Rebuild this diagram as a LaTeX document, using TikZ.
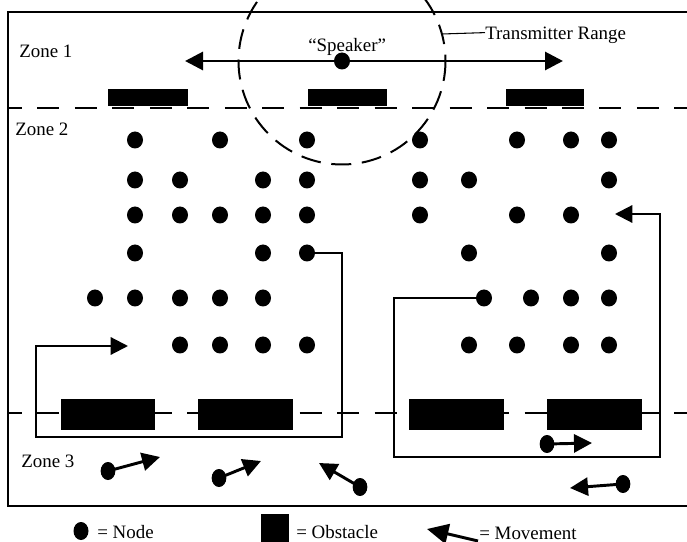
\documentclass[tikz,border=0pt]{standalone}
\usepackage{fontspec}
\setmainfont{Liberation Serif}
\usetikzlibrary{arrows.meta,shapes.geometric}
\begin{document}
\begin{tikzpicture}[x=0.75pt,y=-0.75pt,
  font=\fontsize{14.2pt}{17pt}\selectfont,
  dot/.style={ellipse,fill=black,inner sep=0pt,minimum width=12pt,minimum height=12.75pt},
  mdot/.style={ellipse,fill=black,inner sep=0pt,minimum width=11pt,minimum height=13.5pt},
  lbl/.style={inner sep=0pt,anchor=base west},
  obst/.style={fill=black},
  frameline/.style={line width=2.2pt},
  zline/.style={line width=1.9pt,dash pattern=on 16.5pt off 11.6pt,dash phase=6pt},
  rangecircle/.style={line width=1.5pt,dash pattern=on 15pt off 8pt},
  route/.style={line width=1.6pt,-{Triangle[length=13pt,width=13pt]}},
  arr/.style={line width=2.2pt,-{Triangle[length=13.5pt,width=13.5pt]}},
  marr/.style={line width=2.2pt,shorten <=-2pt,-{Triangle[length=13.5pt,width=13.5pt]}}
]
\useasboundingbox (0,0) rectangle (687,542);
\clip (0,0) rectangle (687,542);

% frame
\draw[frameline] (8,12) rectangle (700,506);

% obstacles
\fill[obst] (108,89) rectangle (188,106);
\fill[obst] (308,89) rectangle (387,106);
\fill[obst] (506,89) rectangle (584,106);
\fill[obst] (61,399) rectangle (155,430);
\fill[obst] (198,399) rectangle (293,430);
\fill[obst] (409,399) rectangle (504,430);
\fill[obst] (547,399) rectangle (642,430);

% zone lines
\draw[zline] (8,108) -- (700,108);
\draw[zline] (8,413) -- (700,413);

% zone labels
\node[lbl] (z1) at (19,57.3) {Zone 1};
\node[lbl] (z2) at (15,136) {Zone 2};
\node[lbl] (z3) at (21,467) {Zone 3};

% transmitter range
\node[dot] (spk) at (342,61) {};
\draw[rangecircle] (spk.center) circle[radius=103.5];
\node[lbl] (trange) at (485,39.5) {Transmitter Range};
\coordinate (rc) at (442,34);
\draw[line width=0.8pt] (rc) -- ([yshift=2pt]trange.west);
\node[lbl] (spkl) at (308,52) {“Speaker”};
\coordinate (tipSL) at (185,61);
\coordinate (tipSR) at (563,61);
\draw[arr] (spk) -- (tipSL);
\draw[arr] (spk) -- (tipSR);

% field nodes
\foreach \x/\y/\n in {
  135/140/a1,220/140/a2,307/140/a3,420/140/a4,517/140/a5,571/140/a6,609/140/a7,
  135/180/b1,180/180/b2,263/180/b3,307/180/b4,420/180/b5,469/180/b6,609/180/b7,
  135/215/c1,180/215/c2,220/215/c3,263/215/c4,307/215/c5,420/215/c6,517/215/c7,571/215/c8,
  135/253/d1,263/253/d2,307/253/pL,469/253/d4,609/253/d5,
  95/298/e1,135/298/e2,180/298/e3,220/298/e4,263/298/e5,484/298/pR,531/298/e7,571/298/e8,609/298/e9,
  180/345/f1,220/345/f2,263/345/f3,307/345/f4,469/345/f5,517/345/f6,571/345/f7,609/345/f8}
  \node[dot] (\n) at (\x,\y) {};

% routes
\coordinate (tipL) at (128,346);
\coordinate (tipR) at (615,214);
\draw[route] (pL.east) -- (342,253) -- (342,437) -- (36,437) -- (36,346) -- (tipL);
\draw[route] (pR.west) -- (394,298) -- (394,457) -- (660,457) -- (660,214) -- (tipR);

% movements
\node[mdot] (m1) at (108,471) {};
\node[mdot] (m2) at (219,478) {};
\node[mdot] (m3) at (360,487) {};
\node[mdot] (m4) at (547,444) {};
\node[mdot] (m5) at (623,484) {};
\coordinate (t1) at (160,457);
\coordinate (t2) at (261,461);
\coordinate (t3) at (319,463);
\coordinate (t4) at (592,443);
\coordinate (t5) at (570,488);
\draw[marr] (m1) -- (t1);
\draw[marr] (m2) -- (t2);
\draw[marr] (m3) -- (t3);
\draw[marr] (m4) -- (t4);
\draw[marr] (m5) -- (t5);

% legend
\node[ellipse,fill=black,inner sep=0pt,minimum width=11.25pt,minimum height=13.5pt] (lgdot) at (81,531) {};
\node[lbl] (lgnode) at (97,538) {= Node};
\fill[obst] (261,514) rectangle (289,546);
\node[lbl] (lgobs) at (296,538) {= Obstacle};
\coordinate (lgtail) at (478,541);
\coordinate (lgtip) at (427,529);
\draw[line width=2.2pt,-{Triangle[length=16pt,width=15pt]}] (lgtail) -- (lgtip);
\node[lbl] (lgmov) at (479,539) {= Movement};
\end{tikzpicture}
\end{document}
